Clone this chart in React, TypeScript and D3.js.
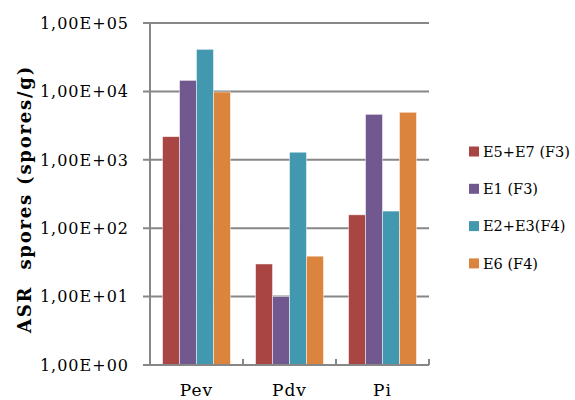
import React from "react";
import * as d3 from "d3";

const categories = ["Pev", "Pdv", "Pi"];
const seriesNames = ["E5+E7 (F3)", "E1 (F3)", "E2+E3(F4)", "E6 (F4)"];
const seriesColors = ["#A94643", "#71588F", "#4198AF", "#DB843D"];
const e5e7 = [2180, 30, 157];
const e1 = [14500, 10, 4620];
const e2e3 = [41200, 1290, 178];
const e6 = [9800, 39, 4950];
const seriesValues = [e5e7, e1, e2e3, e6];
const yTicks = [1, 10, 100, 1000, 10000, 100000];
const yTickLabels = ["1,00E+00", "1,00E+01", "1,00E+02", "1,00E+03", "1,00E+04", "1,00E+05"];

const W = 575;
const H = 400;
const left = 150;
const right = 429;
const top = 23;
const bottom = 365;
const font = "'DejaVu Serif', serif";

export default function App() {
  const y = d3.scaleLog().domain([1, 100000]).range([bottom, top]);
  const x0 = d3.scaleBand<string>().domain(categories).range([left, right]).paddingInner(0.27).paddingOuter(0.135);
  const x1 = d3.scaleBand<number>().domain(d3.range(seriesNames.length)).range([0, x0.bandwidth()]);
  const step = (right - left) / categories.length;
  const grid = "#878787";

  return (
    <svg width={W} height={H} style={{ position: "absolute", left: 0, top: 0, background: "#fff" }}>
      {yTicks.slice(1).map((t) => (
        <line key={t} x1={left - 7} x2={right} y1={y(t)} y2={y(t)} stroke={grid} strokeWidth={2} />
      ))}
      {categories.map((c, i) =>
        seriesValues.map((vals, s) => (
          <rect
            key={c + s}
            x={(x0(c) as number) + (x1(s) as number)}
            y={y(vals[i])}
            width={x1.bandwidth()}
            height={bottom - y(vals[i])}
            fill={seriesColors[s]}
            stroke="#ffffff"
            strokeOpacity={0.6}
            strokeWidth={0.8}
          />
        ))
      )}
      <line x1={left} x2={left} y1={top} y2={bottom} stroke={grid} strokeWidth={2} />
      <line x1={left - 7} x2={right} y1={bottom} y2={bottom} stroke={grid} strokeWidth={2} />
      {d3.range(1, categories.length + 1).map((k) => (
        <line key={k} x1={left + k * step} x2={left + k * step} y1={bottom} y2={bottom - 6} stroke={grid} strokeWidth={2} />
      ))}
      {yTicks.map((t, i) => (
        <text key={t} x={left - 21} y={y(t)} dy="0.36em" textAnchor="end" fontFamily={font} fontSize={16} letterSpacing={1} fill="#000">
          {yTickLabels[i]}
        </text>
      ))}
      {categories.map((c) => (
        <text key={c} x={(x0(c) as number) + x0.bandwidth() / 2} y={396} textAnchor="middle" fontFamily={font} fontSize={17} letterSpacing={1} fill="#000">
          {c}
        </text>
      ))}
      <text
        transform={`translate(31,199) rotate(-90)`}
        textAnchor="middle"
        fontFamily={font}
        fontSize={18}
        letterSpacing={1.8}
        fontWeight="bold"
        fill="#000"
        style={{ whiteSpace: "pre" }}
      >
        ASR  spores (spores/g)
      </text>
      {seriesNames.map((n, i) => (
        <g key={n} transform={`translate(469,${151.5 + i * 37.3})`}>
          <rect x={0} y={-5} width={10} height={10} fill={seriesColors[i]} />
          <text x={14} y={0} dy="0.36em" fontFamily={font} fontSize={14.5} fill="#000">
            {n}
          </text>
        </g>
      ))}
    </svg>
  );
}
